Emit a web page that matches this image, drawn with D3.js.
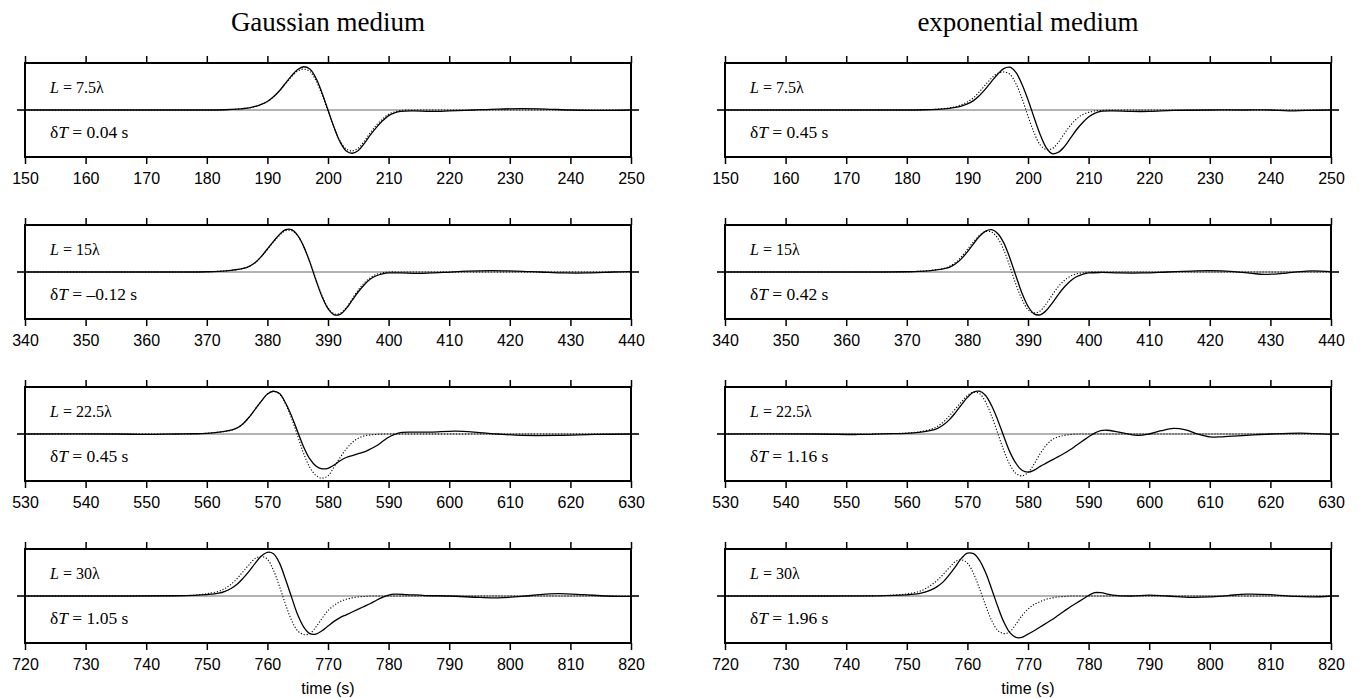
<!DOCTYPE html>
<html><head><meta charset="utf-8">
<script src="https://cdn.jsdelivr.net/npm/d3@7"></script>
<style>body{margin:0;background:#fff}</style>
</head><body><svg id="c" width="1359" height="698"></svg>
<script>
// ---------- data ----------
const mediumTitles = ["Gaussian medium", "exponential medium"];
const distances = ["7.5", "15", "22.5", "30"];
const delaysGauss = ["0.04", "\u20130.12", "0.45", "1.05"];
const delaysExp = ["0.45", "0.42", "1.16", "1.96"];
const timeRanges = [[150, 250], [340, 440], [530, 630], [720, 820]];
const xAxisTitle = "time (s)";

// Gaussian medium, L = 7.5 lambda
const g1Time = [150,165,178,183,185,187,188,189,190,191,192,193,194,195,196,197,198,199,200,201,202,203,204,205,206,207,208,209,210,211,212,214,217,220,224,228,232,236,240,245,250];
const g1Solid = [0,0,0,0.005,0.018,0.045,0.075,0.12,0.18,0.28,0.41,0.57,0.73,0.86,0.92,0.87,0.68,0.37,0.0,-0.37,-0.68,-0.87,-0.92,-0.86,-0.71,-0.53,-0.37,-0.23,-0.12,-0.06,-0.03,-0.02,-0.03,-0.02,0.0,0.02,0.03,0.02,0.0,-0.01,0];
const g1Dotted = [0,0,0,0.005,0.018,0.045,0.075,0.12,0.18,0.28,0.41,0.56,0.71,0.83,0.87,0.82,0.63,0.33,-0.02,-0.37,-0.66,-0.83,-0.87,-0.81,-0.66,-0.48,-0.32,-0.19,-0.09,-0.04,-0.01,0,0,0,0,0,0,0,0,0,0];

// Gaussian medium, L = 15 lambda
const g2Time = [340,355,366,370,372,374,376,377,378,379,380,381,382,383,384,385,386,387,388,389,390,391,392,393,394,395,396,397,398,399,400,402,405,409,413,417,421,425,429,433,437,440];
const g2Solid = [0,0,0,0.005,0.015,0.035,0.075,0.12,0.2,0.33,0.49,0.65,0.8,0.9,0.9,0.78,0.54,0.21,-0.17,-0.52,-0.78,-0.91,-0.9,-0.78,-0.6,-0.42,-0.27,-0.15,-0.08,-0.04,-0.02,-0.02,-0.03,-0.01,0.02,0.03,0.02,0.0,-0.02,-0.02,0.0,0.01];
const g2Dotted = [0,0,0,0.005,0.015,0.035,0.075,0.12,0.2,0.33,0.48,0.64,0.78,0.88,0.88,0.77,0.54,0.22,-0.15,-0.5,-0.76,-0.89,-0.88,-0.76,-0.57,-0.38,-0.23,-0.12,-0.05,-0.02,0,0,0,0,0,0,0,0,0,0,0,0];

// Gaussian medium, L = 22.5 lambda
const g3Time = [530,545,550,555,558,560,562,564,565,566,567,568,569,570,571,572,573,574,575,576,577,578,579,580,581,582,583,584,585,586,587,588,589,590,591,592,594,597,601,605,608,612,618,624,630];
const g3Solid = [0,0,-0.01,0,0.005,0.015,0.04,0.08,0.13,0.22,0.36,0.53,0.7,0.85,0.91,0.86,0.66,0.38,0.05,-0.28,-0.53,-0.68,-0.74,-0.73,-0.66,-0.57,-0.5,-0.46,-0.42,-0.38,-0.32,-0.25,-0.16,-0.07,-0.01,0.03,0.04,0.04,0.06,0.03,0.0,-0.03,-0.03,-0.01,0];
const g3Dotted = [0,0,0,0,0.005,0.015,0.04,0.08,0.13,0.22,0.36,0.53,0.7,0.85,0.91,0.85,0.64,0.33,-0.04,-0.42,-0.71,-0.88,-0.94,-0.89,-0.7,-0.5,-0.32,-0.18,-0.09,-0.04,-0.02,-0.01,0,0,0,0,0,0,0,0,0,0,0,0,0];

// Gaussian medium, L = 30 lambda
const g4Time = [720,735,745,748,750,752,753,754,755,756,757,758,759,760,761,762,763,764,765,766,767,768,769,770,771,772,773,774,775,776,777,778,779,780,781,783,786,790,795,798,802,805,808,812,816,820];
const g4Solid = [0,0,0.005,0.015,0.03,0.06,0.1,0.16,0.25,0.38,0.53,0.7,0.85,0.93,0.9,0.7,0.35,-0.03,-0.4,-0.66,-0.8,-0.81,-0.74,-0.64,-0.54,-0.46,-0.4,-0.34,-0.28,-0.22,-0.16,-0.09,-0.03,0.02,0.04,0.03,0.01,0.0,-0.03,-0.04,-0.01,0.03,0.05,0.03,0.0,-0.01];
const g4Dotted = [0,0,0.005,0.02,0.05,0.1,0.16,0.25,0.37,0.52,0.67,0.8,0.84,0.78,0.55,0.2,-0.18,-0.52,-0.74,-0.82,-0.8,-0.66,-0.48,-0.31,-0.2,-0.12,-0.07,-0.04,-0.02,-0.01,0,0,0,0,0,0,0,0,0,0,0,0,0,0,0,0];

// exponential medium, L = 7.5 lambda
const e1Time = [150,165,178,183,185,187,188,189,190,191,192,193,194,195,196,197,198,199,200,201,202,203,204,205,206,207,208,209,210,211,212,214,217,220,224,230,236,240,243,246,250];
const e1Solid = [0,0,0,0.005,0.015,0.035,0.055,0.085,0.13,0.2,0.31,0.45,0.61,0.76,0.88,0.91,0.8,0.55,0.22,-0.16,-0.52,-0.8,-0.93,-0.9,-0.78,-0.6,-0.42,-0.27,-0.15,-0.07,-0.03,-0.02,-0.03,-0.03,-0.01,0,0,0,-0.02,-0.01,0];
const e1Dotted = [0,0,0,0.005,0.018,0.045,0.07,0.11,0.17,0.26,0.39,0.54,0.68,0.78,0.81,0.76,0.56,0.25,-0.13,-0.48,-0.74,-0.84,-0.82,-0.69,-0.5,-0.33,-0.19,-0.1,-0.05,-0.02,-0.01,0,0,0,0,0,0,0,0,0,0];

// exponential medium, L = 15 lambda
const e2Time = [340,355,366,370,372,374,376,377,378,379,380,381,382,383,384,385,386,387,388,389,390,391,392,393,394,395,396,397,398,399,400,402,405,409,413,417,420,424,427,429,432,436,440];
const e2Solid = [0,0,0,0.005,0.012,0.03,0.065,0.1,0.17,0.28,0.43,0.6,0.76,0.87,0.9,0.82,0.62,0.3,-0.08,-0.45,-0.73,-0.89,-0.91,-0.82,-0.66,-0.48,-0.32,-0.19,-0.1,-0.05,-0.02,-0.01,-0.02,-0.02,0.0,0.02,0.03,0.01,-0.03,-0.05,-0.03,0.02,0.01];
const e2Dotted = [0,0,0,0.005,0.015,0.035,0.075,0.12,0.2,0.32,0.48,0.64,0.78,0.86,0.85,0.72,0.47,0.12,-0.26,-0.58,-0.8,-0.87,-0.83,-0.68,-0.49,-0.31,-0.18,-0.09,-0.04,-0.02,0,0,0,0,0,0,0,0,0,0,0,0,0];

// exponential medium, L = 22.5 lambda
const e3Time = [530,545,552,556,560,562,564,565,566,567,568,569,570,571,572,573,574,575,576,577,578,579,580,581,582,583,584,585,586,587,588,589,590,591,592,593,595,598,600,602,604,606,608,610,612,616,620,625,630];
const e3Solid = [0,0,-0.01,0.003,0.015,0.035,0.075,0.115,0.19,0.3,0.45,0.62,0.78,0.89,0.91,0.82,0.6,0.3,-0.05,-0.38,-0.62,-0.77,-0.81,-0.77,-0.69,-0.62,-0.55,-0.48,-0.41,-0.33,-0.24,-0.15,-0.06,0.02,0.07,0.08,0.04,-0.03,0.0,0.07,0.12,0.09,0.0,-0.06,-0.06,-0.03,0.0,0.02,-0.01];
const e3Dotted = [0,0,0,0.005,0.02,0.045,0.1,0.16,0.25,0.38,0.53,0.68,0.82,0.89,0.86,0.68,0.38,0.02,-0.35,-0.65,-0.84,-0.89,-0.82,-0.64,-0.42,-0.24,-0.12,-0.06,-0.03,-0.01,0,0,0,0,0,0,0,0,0,0,0,0,0,0,0,0,0,0,0];

// exponential medium, L = 30 lambda
const e4Time = [720,735,745,748,750,752,753,754,755,756,757,758,759,760,761,762,763,764,765,766,767,768,769,770,771,772,773,774,775,776,777,778,779,780,781,782,784,787,790,793,797,800,803,806,810,814,817,820];
const e4Solid = [0,0,0.003,0.012,0.025,0.05,0.08,0.13,0.2,0.3,0.45,0.62,0.8,0.91,0.9,0.76,0.5,0.15,-0.22,-0.55,-0.78,-0.88,-0.88,-0.81,-0.74,-0.66,-0.58,-0.5,-0.41,-0.32,-0.23,-0.15,-0.07,0.01,0.07,0.07,0.02,0.0,0.02,0.0,-0.03,-0.02,0.01,0.04,0.03,-0.01,-0.02,0];
const e4Dotted = [0,0,0.005,0.02,0.045,0.095,0.15,0.23,0.33,0.46,0.6,0.73,0.77,0.7,0.48,0.16,-0.2,-0.52,-0.73,-0.8,-0.76,-0.6,-0.42,-0.28,-0.18,-0.12,-0.07,-0.04,-0.02,-0.01,0,0,0,0,0,0,0,0,0,0,0,0,0,0,0,0,0,0];

// ---------- layout ----------
const svg = d3.select("#c");
const colLeft = [25, 725];
const panelW = 606, panelH = 94;
const rowTop = r => 63 + 162 * r;
const serif = "'Liberation Serif','Times New Roman',Times,serif";
const sans = "'Liberation Sans',Arial,Helvetica,sans-serif";

const panels = [
  [g1Time, g1Solid, g1Dotted], [g2Time, g2Solid, g2Dotted], [g3Time, g3Solid, g3Dotted], [g4Time, g4Solid, g4Dotted],
  [e1Time, e1Solid, e1Dotted], [e2Time, e2Solid, e2Dotted], [e3Time, e3Solid, e3Dotted], [e4Time, e4Solid, e4Dotted]
];

mediumTitles.forEach((t, c) => {
  svg.append("text").attr("x", colLeft[c] + panelW / 2).attr("y", 31)
    .attr("text-anchor", "middle").attr("font-family", serif).attr("font-size", 27).text(t);
});

panels.forEach((p, i) => {
  const c = Math.floor(i / 4), r = i % 4;
  const [tt, sv, dv] = p;
  const x0 = colLeft[c], y0 = rowTop(r);
  const x = d3.scaleLinear().domain(timeRanges[r]).range([x0, x0 + panelW]);
  const y = d3.scaleLinear().domain([-1, 1]).range([y0 + panelH, y0]);
  const g = svg.append("g");
  const clipId = "clip" + i;
  g.append("clipPath").attr("id", clipId).append("rect")
    .attr("x", x0).attr("y", y0).attr("width", panelW).attr("height", panelH);

  // zero line with outer ticks
  g.append("line").attr("x1", x0).attr("x2", x0 + panelW).attr("y1", y(0)).attr("y2", y(0))
    .attr("stroke", "#000").attr("stroke-width", 0.6);
  g.append("line").attr("x1", x0 - 8).attr("x2", x0).attr("y1", y(0)).attr("y2", y(0))
    .attr("stroke", "#000").attr("stroke-width", 1.6);
  g.append("line").attr("x1", x0 + panelW).attr("x2", x0 + panelW + 8).attr("y1", y(0)).attr("y2", y(0))
    .attr("stroke", "#000").attr("stroke-width", 1.6);

  const line = d3.line().x(d => x(d[0])).y(d => y(d[1])).curve(d3.curveCatmullRom.alpha(0.5));
  const dotted = tt.map((t, k) => [t, dv[k]]);
  const solid = tt.map((t, k) => [t, sv[k]]);
  g.append("path").attr("d", line(dotted)).attr("fill", "none").attr("stroke", "#000")
    .attr("stroke-width", 1.1).attr("stroke-dasharray", "1.2,1.8").attr("clip-path", `url(#${clipId})`);
  g.append("path").attr("d", line(solid)).attr("fill", "none").attr("stroke", "#000")
    .attr("stroke-width", 1.3).attr("clip-path", `url(#${clipId})`);

  // frame
  g.append("rect").attr("x", x0).attr("y", y0).attr("width", panelW).attr("height", panelH)
    .attr("fill", "none").attr("stroke", "#000").attr("stroke-width", 2);

  // axes
  const top = g.append("g").attr("transform", `translate(0,${y0})`)
    .call(d3.axisTop(x).ticks(10).tickSize(7).tickSizeOuter(0).tickFormat(""));
  const bot = g.append("g").attr("transform", `translate(0,${y0 + panelH})`)
    .call(d3.axisBottom(x).ticks(10).tickSize(7).tickSizeOuter(0).tickPadding(9).tickFormat(d3.format("d")));
  [top, bot].forEach(a => {
    a.select(".domain").remove();
    a.selectAll(".tick line").attr("stroke", "#000").attr("stroke-width", 1.5);
    a.selectAll("text").attr("font-family", sans).attr("font-size", 16).attr("fill", "#000");
  });

  // labels
  const lt = g.append("text").attr("x", x0 + 25).attr("y", y(0) - 17)
    .attr("font-family", serif).attr("font-size", 16);
  lt.append("tspan").attr("font-style", "italic").text("L");
  lt.append("tspan").text(" = " + distances[r] + "\u03bb");
  const dt = g.append("text").attr("x", x0 + 25).attr("y", y(0) + 28)
    .attr("font-family", serif).attr("font-size", 17.5);
  dt.append("tspan").text("\u03b4");
  dt.append("tspan").attr("font-style", "italic").text("T");
  dt.append("tspan").text(" = " + (c === 0 ? delaysGauss[r] : delaysExp[r]) + " s");

  if (r === 3) {
    g.append("text").attr("x", x0 + panelW / 2).attr("y", 694).attr("text-anchor", "middle")
      .attr("font-family", sans).attr("font-size", 16).text(xAxisTitle);
  }
});
</script>
</body></html>
